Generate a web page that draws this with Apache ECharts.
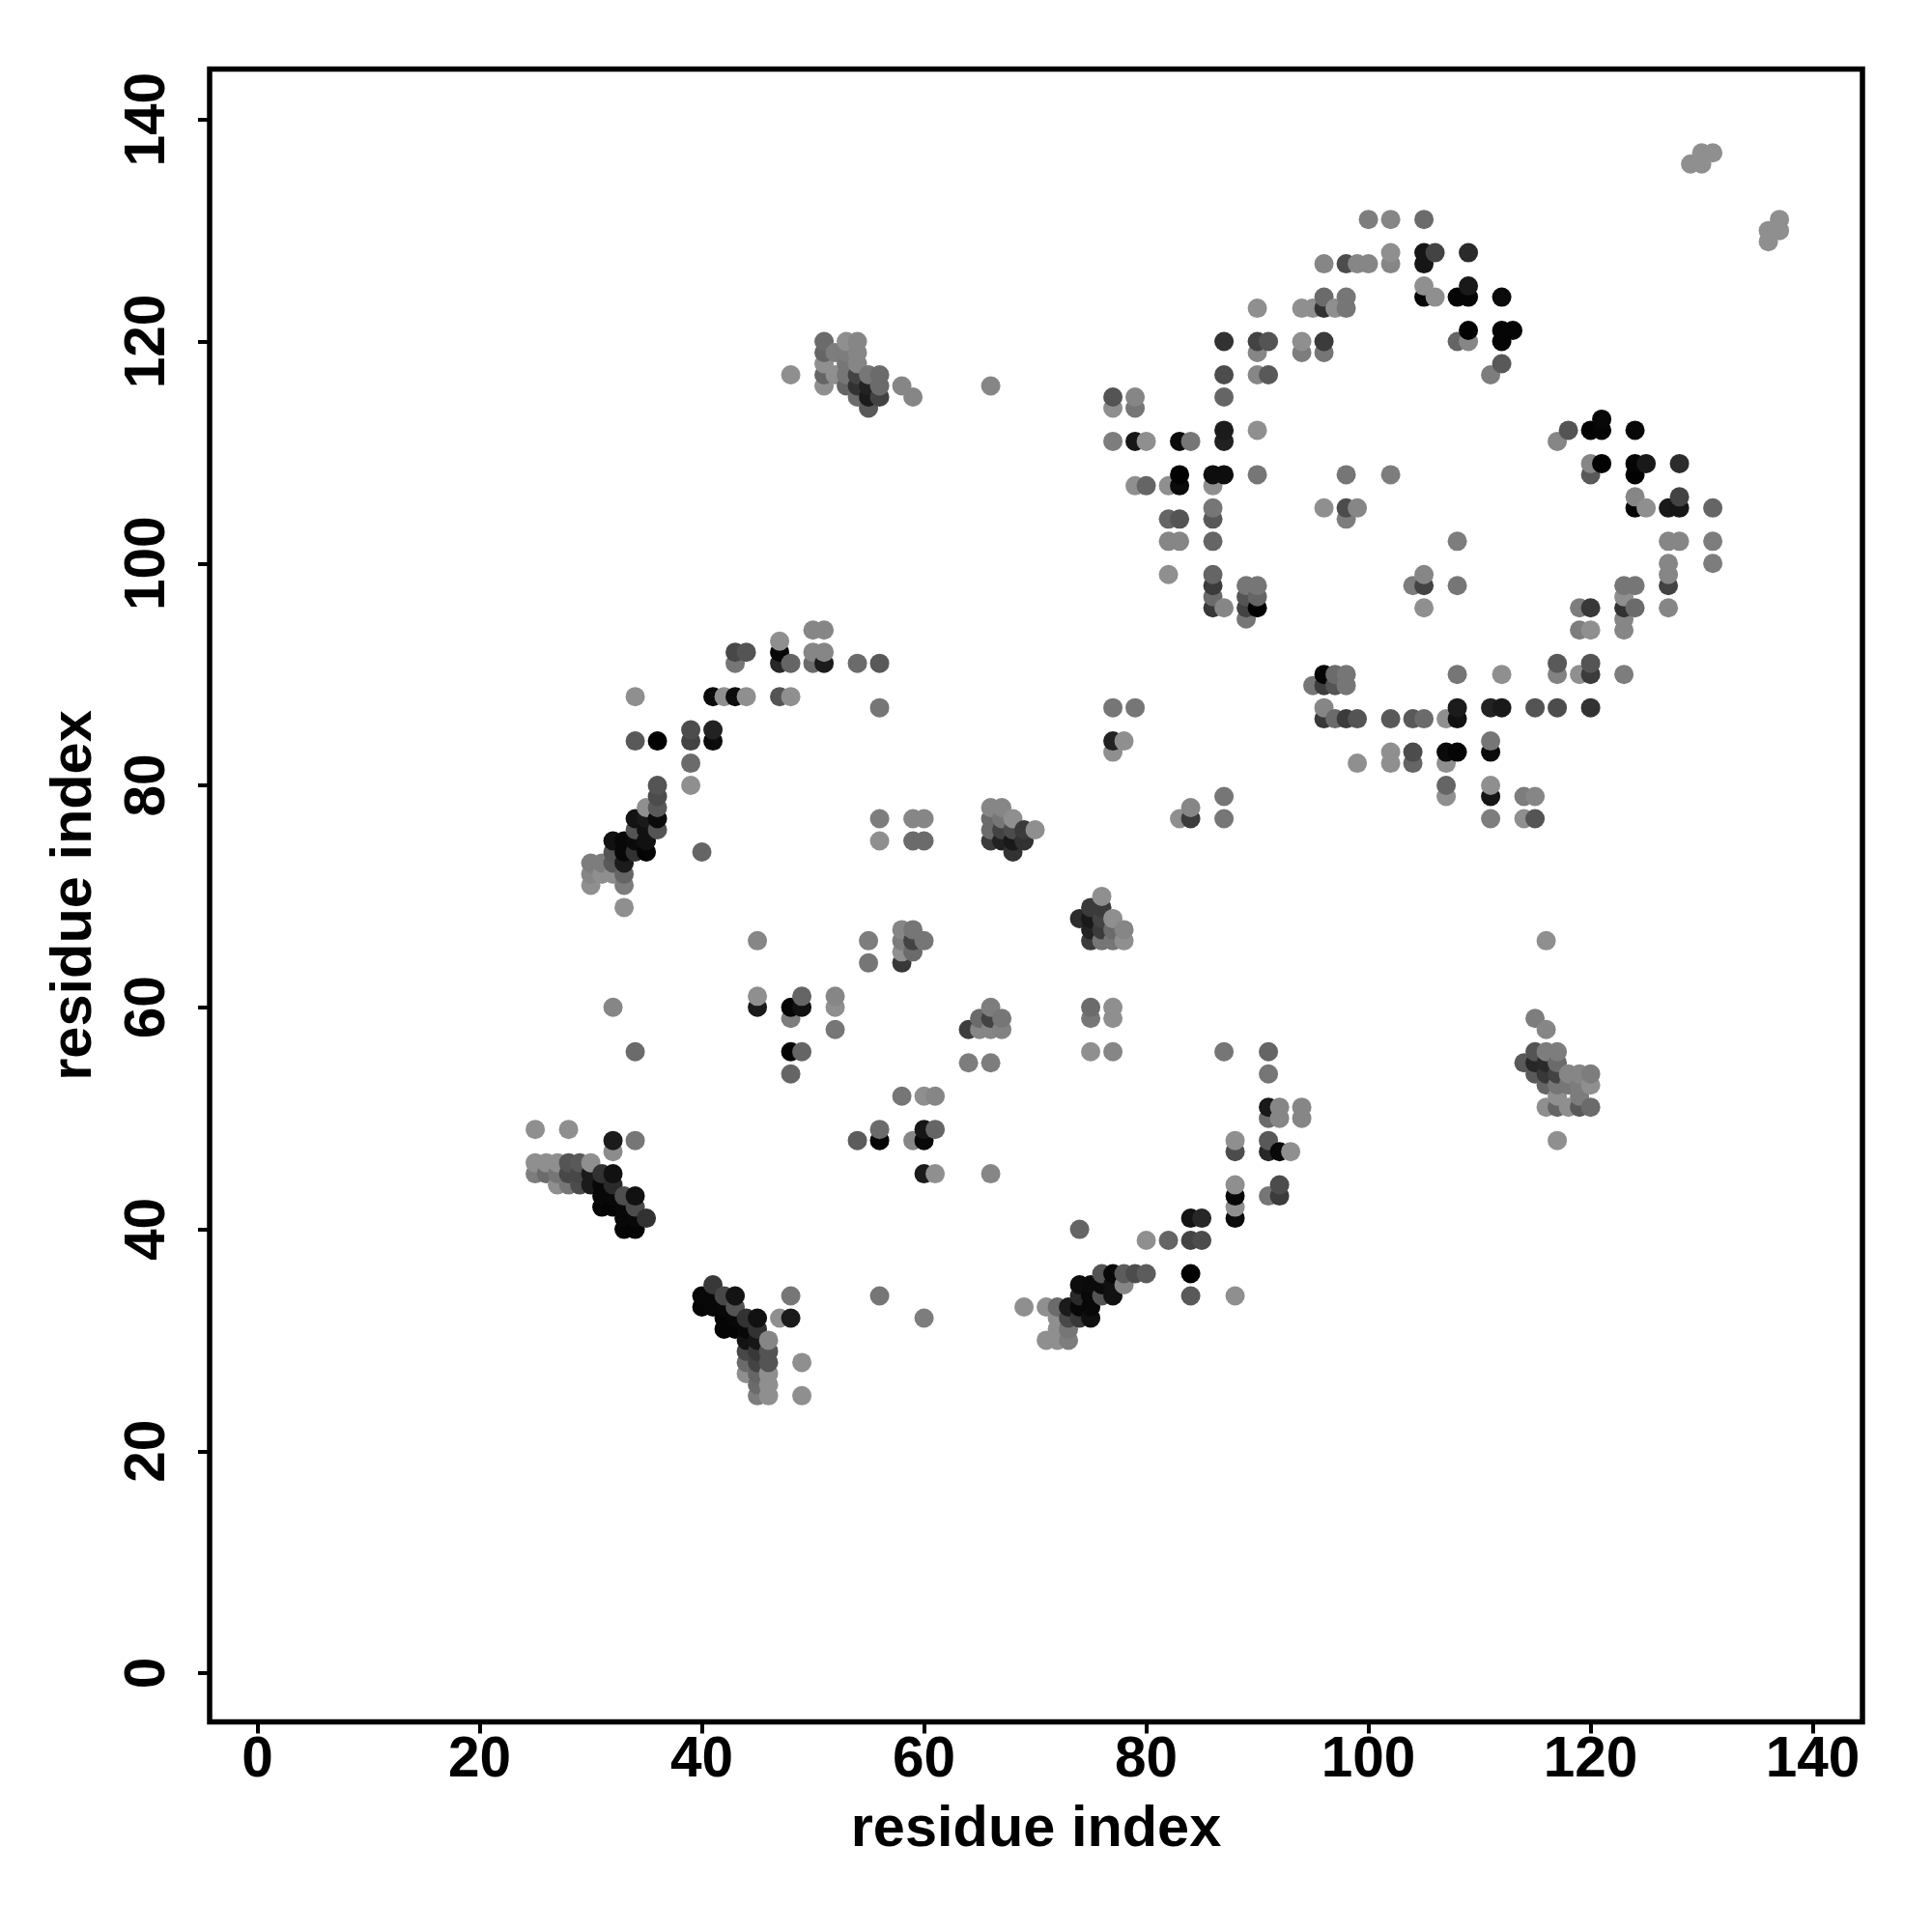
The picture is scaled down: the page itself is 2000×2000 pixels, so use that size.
<!DOCTYPE html>
<html><head><meta charset="utf-8">
<style>html,body{margin:0;background:#fff}#c{width:2000px;height:2000px}</style>
<script src="https://cdn.jsdelivr.net/npm/echarts@6/dist/echarts.min.js"></script>
</head><body><div id="c"></div>
<script>
const axisTitle = "residue index";
const tickValues = [0,20,40,60,80,100,120,140];
// [residue x, residue y, grey level 0-255]
const contactsLow = [
[25,49,0x88],[28,49,0x88],[32,48,0x1a],[34,48,0x70],[32,47,0x85],
[25,46,0x88],[26,46,0x88],[27,46,0x88],[28,46,0x50],[29,46,0x55],[30,46,0x88],
[25,45,0x77],[26,45,0x66],[27,45,0x70],[28,45,0x44],[29,45,0x44],[30,45,0x1a],[31,45,0x30],[32,45,0x10],
[27,44,0x88],[28,44,0x70],[29,44,0x48],[30,44,0x1a],[31,44,0x08],[32,44,0x28],
[31,43,0x08],[32,43,0x08],[33,43,0x4a],[34,43,0x10],
[31,42,0x05],[32,42,0x05],[33,42,0x08],[34,42,0x48],
[33,41,0x08],[34,41,0x08],[35,41,0x30],[33,40,0x05],[34,40,0x05],
[41,35,0x35],[40,34,0x08],[41,34,0x08],[42,34,0x45],[43,34,0x12],[48,34,0x70],[56,34,0x70],
[40,33,0x05],[41,33,0x08],[42,33,0x08],[43,33,0x50],
[42,32,0x05],[43,32,0x08],[44,32,0x30],[45,32,0x10],[47,32,0x88],[48,32,0x1a],
[42,31,0x05],[43,31,0x05],[44,31,0x08],[45,31,0x30],
[44,30,0x12],[45,30,0x15],[46,30,0x80],[44,29,0x45],[45,29,0x35],[46,29,0x50],
[44,28,0x66],[45,28,0x40],[46,28,0x50],[49,28,0x88],
[44,27,0x88],[45,27,0x60],[46,27,0x88],[45,26,0x66],[46,26,0x88],
[45,25,0x77],[46,25,0x88],[49,25,0x88],
[54,48,0x58],[56,49,0x66],[56,48,0x05],[58,52,0x70],[60,52,0x88],[61,52,0x80],
[59,48,0x80],[60,49,0x15],[60,48,0x08],[61,49,0x60],[60,45,0x1a],[61,45,0x88],[66,45,0x80],
[64,58,0x3a],[65,59,0x66],[66,60,0x77],[66,59,0x40],[67,59,0x70],[65,58,0x80],[66,58,0x80],[67,58,0x7c],
[64,55,0x77],[66,55,0x77],[75,60,0x66],[77,60,0x88],[75,59,0x70],[77,59,0x88],[75,56,0x88],[77,56,0x80],
[87,56,0x70],[91,56,0x60],[91,54,0x70],[91,51,0x18],[92,51,0x80],[94,51,0x80],[91,50,0x66],[92,50,0x80],[94,50,0x80],
[88,48,0x88],[91,48,0x55],[88,47,0x48],[91,47,0x25],[92,47,0x08],[93,47,0x88],
[88,44,0x88],[92,44,0x48],[88,43,0x08],[91,43,0x70],[92,43,0x38],[88,42,0x88],[88,41,0x0a],[84,41,0x12],[85,41,0x25],
[74,40,0x60],[80,39,0x88],[82,39,0x60],[84,39,0x40],[85,39,0x48],
[76,36,0x50],[77,36,0x08],[78,36,0x58],[79,36,0x48],[80,36,0x58],[84,36,0x02],
[74,35,0x0c],[75,35,0x0a],[76,35,0x0a],[77,35,0x10],[78,35,0x80],
[74,34,0x28],[75,34,0x08],[76,34,0x50],[77,34,0x10],[84,34,0x55],[88,34,0x88],
[69,33,0x88],[71,33,0x88],[72,33,0x66],[73,33,0x1a],[74,33,0x08],[75,33,0x08],
[72,32,0x88],[73,32,0x45],[74,32,0x35],[75,32,0x0f],[60,32,0x77],
[72,31,0x88],[73,31,0x70],[71,30,0x88],[72,30,0x88],[73,30,0x77],
[32,60,0x80],[34,56,0x66]
];
const contactsMid = [
[50,94,0x80],[51,94,0x80],[47,93,0x88],[43,92,0x45],[44,92,0x50],[47,92,0x08],[50,92,0x80],[51,92,0x80],
[43,91,0x70],[47,91,0x25],[48,91,0x60],[50,91,0x66],[51,91,0x1a],[54,91,0x66],[56,91,0x55],
[34,88,0x88],[41,88,0x0a],[42,88,0x88],[43,88,0x0c],[44,88,0x88],[47,88,0x50],[48,88,0x88],[56,87,0x70],
[39,85,0x48],[41,85,0x20],[34,84,0x55],[36,84,0x02],[39,84,0x40],[41,84,0x0a],[39,82,0x66],
[36,80,0x50],[39,80,0x88],[36,79,0x48],[35,78,0x88],[36,78,0x55],
[34,77,0x12],[35,77,0x18],[36,77,0x0a],[56,77,0x77],[59,77,0x80],[60,77,0x80],
[34,76,0x50],[35,76,0x10],[36,76,0x50],
[32,75,0x10],[33,75,0x08],[34,75,0x0a],[35,75,0x10],[56,75,0x88],[59,75,0x66],[60,75,0x66],
[32,74,0x50],[33,74,0x08],[34,74,0x30],[35,74,0x05],[40,74,0x60],
[30,73,0x77],[31,73,0x77],[32,73,0x55],[33,73,0x1a],[30,72,0x80],[31,72,0x88],[32,72,0x88],[33,72,0x60],
[30,71,0x88],[33,71,0x77],[33,69,0x88],
[66,78,0x80],[67,78,0x80],[66,77,0x66],[67,77,0x70],[68,77,0x88],
[66,76,0x66],[67,76,0x40],[68,76,0x48],[69,76,0x38],[70,76,0x88],
[66,75,0x38],[67,75,0x20],[68,75,0x18],[69,75,0x30],[68,74,0x30],
[76,70,0x88],[75,69,0x38],[76,69,0x38],[74,68,0x2a],[75,68,0x18],[76,68,0x40],[77,68,0x88],
[75,67,0x20],[76,67,0x38],[77,67,0x66],[78,67,0x80],[75,66,0x38],[76,66,0x70],[77,66,0x70],[78,66,0x88],
[58,67,0x80],[59,67,0x70],[55,66,0x77],[58,66,0x77],[59,66,0x40],[60,66,0x70],[58,65,0x88],[59,65,0x66],[55,64,0x70],[58,64,0x35],
[45,66,0x80],[45,61,0x88],[45,60,0x1a],[49,61,0x60],[48,60,0x05],[49,60,0x10],[48,59,0x77],
[52,61,0x80],[52,60,0x88],[52,58,0x70],[48,56,0x05],[49,56,0x60],[48,54,0x60],
[77,87,0x70],[79,87,0x70],[77,84,0x20],[78,84,0x88],[77,83,0x88],
[83,77,0x88],[84,78,0x80],[84,77,0x38],[87,79,0x70],[87,77,0x70],
[116,66,0x88],[115,59,0x77],[116,58,0x80],[115,56,0x50],[116,56,0x77],[117,56,0x77],
[114,55,0x55],[115,55,0x25],[116,55,0x28],[117,55,0x66],
[115,54,0x55],[116,54,0x35],[117,54,0x40],[118,54,0x80],[119,54,0x80],[120,54,0x77],
[116,53,0x60],[117,53,0x70],[118,53,0x70],[119,53,0x77],[120,53,0x88],[117,52,0x88],[119,52,0x77],
[116,51,0x88],[117,51,0x60],[118,51,0x88],[119,51,0x55],[120,51,0x66],[117,48,0x88]
];
const contactsHigh = [
[51,120,0x66],[53,120,0x88],[54,120,0x80],[51,119,0x60],[52,119,0x77],[53,119,0x77],[54,119,0x80],
[51,118,0x88],[53,118,0x70],[54,118,0x80],
[48,117,0x88],[51,117,0x60],[52,117,0x88],[53,117,0x70],[54,117,0x40],[55,117,0x70],[56,117,0x66],
[51,116,0x88],[53,116,0x60],[54,116,0x30],[55,116,0x20],[56,116,0x66],[58,116,0x80],[66,116,0x80],
[54,115,0x66],[55,115,0x1a],[56,115,0x40],[59,115,0x80],[55,114,0x55],
[100,131,0x77],[102,131,0x80],[105,131,0x66],[102,128,0x88],[105,128,0x15],[106,128,0x40],[109,128,0x28],
[96,127,0x80],[98,127,0x48],[99,127,0x80],[100,127,0x80],[102,127,0x80],[105,127,0x15],
[105,125,0x88],[109,125,0x18],[96,124,0x66],[98,124,0x70],[105,124,0x05],[106,124,0x88],[108,124,0x05],[109,124,0x05],[112,124,0x0a],
[90,123,0x88],[94,123,0x88],[95,123,0x88],[96,123,0x30],[97,123,0x88],[98,123,0x70],
[109,121,0x02],[112,121,0x05],[113,121,0x05],
[87,120,0x30],[90,120,0x40],[91,120,0x50],[94,120,0x88],[96,120,0x38],[108,120,0x60],[109,120,0x80],[112,120,0x05],
[90,119,0x80],[94,119,0x77],[96,119,0x70],[112,118,0x55],[87,117,0x48],[90,117,0x80],[91,117,0x55],[111,117,0x77],
[77,115,0x50],[79,115,0x80],[77,114,0x88],[79,114,0x70],[87,115,0x60],[87,112,0x1a],[90,112,0x88],
[77,111,0x77],[79,111,0x15],[80,111,0x88],[83,111,0x0a],[84,111,0x70],[87,111,0x1f],
[83,108,0x02],[86,108,0x0c],[87,108,0x0c],[90,108,0x70],[98,108,0x70],[102,108,0x77],
[79,107,0x88],[80,107,0x60],[82,107,0x88],[83,107,0x0a],[86,107,0x88],
[86,105,0x70],[96,105,0x88],[98,105,0x48],[99,105,0x80],[82,104,0x60],[83,104,0x50],[86,104,0x55],[98,104,0x77],
[82,102,0x80],[83,102,0x80],[86,102,0x60],[108,102,0x77],
[82,99,0x88],[86,99,0x60],[105,99,0x80],[86,98,0x38],[89,98,0x70],[90,98,0x70],[104,98,0x77],[105,98,0x40],[108,98,0x70],
[86,97,0x66],[89,97,0x50],[90,97,0x60],[86,96,0x35],[87,96,0x80],[89,96,0x40],[90,96,0x02],[105,96,0x88],[89,95,0x70],
[96,90,0x05],[97,90,0x66],[98,90,0x70],[108,90,0x70],[112,90,0x88],[95,89,0x70],[96,89,0x3a],[97,89,0x50],[98,89,0x70],
[117,91,0x55],[120,91,0x50],[117,90,0x7c],[119,90,0x88],[120,90,0x38],[123,90,0x77],
[96,87,0x80],[108,87,0x1a],[111,87,0x20],[112,87,0x18],[115,87,0x50],[117,87,0x48],[120,87,0x30],
[96,86,0x35],[97,86,0x66],[98,86,0x38],[99,86,0x50],[102,86,0x55],[104,86,0x55],[105,86,0x66],[107,86,0x88],[108,86,0x10],
[111,84,0x70],[102,83,0x88],[104,83,0x48],[107,83,0x0a],[108,83,0x05],[111,83,0x0a],
[99,82,0x88],[102,82,0x88],[104,82,0x60],[107,82,0x88],[107,80,0x60],[111,80,0x88],
[107,79,0x88],[111,79,0x15],[114,79,0x77],[115,79,0x80],[111,77,0x77],[114,77,0x88],[115,77,0x50],
[121,113,0x08],[118,112,0x50],[120,112,0x02],[121,112,0x05],[124,112,0x08],[117,111,0x80],
[120,109,0x80],[121,109,0x02],[124,109,0x05],[125,109,0x18],[128,109,0x2a],[120,108,0x55],[124,108,0x02],
[124,106,0x80],[128,106,0x40],[124,105,0x05],[125,105,0x88],[127,105,0x18],[128,105,0x15],[131,105,0x60],
[127,102,0x80],[128,102,0x80],[131,102,0x77],[127,100,0x80],[131,100,0x77],[127,99,0x80],
[123,98,0x70],[124,98,0x70],[127,98,0x40],[123,97,0x88],[119,96,0x77],[120,96,0x35],[123,96,0x30],[124,96,0x66],[127,96,0x80],
[123,95,0x80],[119,94,0x77],[120,94,0x88],[123,94,0x80],
[129,136,0x88],[130,136,0x88],[130,137,0x88],[131,137,0x88],[136,129,0x88],[136,130,0x88],[137,130,0x88],[137,131,0x88]
];
const seen = new Set();
const points = contactsLow.concat(contactsMid, contactsHigh)
  .filter(p => { const k = p[0]+"_"+p[1]; if (seen.has(k)) return false; seen.add(k); return true; })
  .sort((a,b) => a[0]-b[0] || a[1]-b[1]);
const font = "Liberation Sans";
const chart = echarts.init(document.getElementById('c'), null, {renderer:'canvas'});
const tick = {show:true, inside:false, length:12, lineStyle:{color:'#000',width:4}, customValues:tickValues};
const noLine = {show:false, onZero:false};
chart.setOption({
  animation:false,
  backgroundColor:'#fff',
  grid:{left:217, top:71.5, width:1711, height:1711, show:true, borderColor:'#000', borderWidth:5.5, backgroundColor:'#fff'},
  xAxis:{type:'value', min:-4.31, max:144.47, splitLine:{show:false}, axisLine:noLine, axisTick:tick,
    axisLabel:{customValues:tickValues, margin:11, fontFamily:font, fontWeight:'bold', fontSize:58.5, color:'#000'},
    name:axisTitle, nameLocation:'middle', nameGap:82, nameTextStyle:{fontFamily:font, fontWeight:'bold', fontSize:59.5, color:'#000'}},
  yAxis:{type:'value', min:-4.39, max:144.55, splitLine:{show:false}, axisLine:noLine, axisTick:tick,
    axisLabel:{customValues:tickValues, rotate:90, margin:34, align:'center', verticalAlign:'bottom', fontFamily:font, fontWeight:'bold', fontSize:58.5, color:'#000'},
    name:axisTitle, nameLocation:'middle', nameGap:109, nameRotate:90, nameTextStyle:{fontFamily:font, fontWeight:'bold', fontSize:59.5, color:'#000'}},
  series:[{type:'scatter', symbol:'circle', symbolSize:20, clip:false, large:false, progressive:0,
    data:points.map(p=>[p[0],p[1],p[2]]),
    itemStyle:{opacity:1, color:p=>{const g=Math.min(255,Math.round(p.value[2]*1.05));return 'rgb('+g+','+g+','+g+')';}}}]
});
</script></body></html>
